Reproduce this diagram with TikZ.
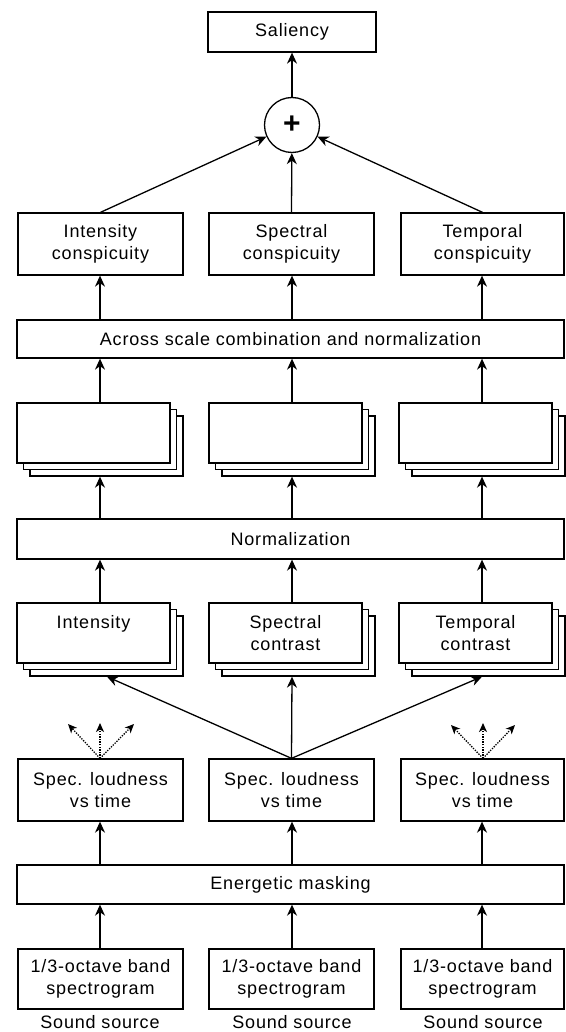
\documentclass[tikz,border=0pt]{standalone}
\usepackage{fontspec}
\setmainfont{Liberation Sans}[LetterSpace=4.5]
\usetikzlibrary{arrows.meta}
\begin{document}
\begin{tikzpicture}[x=1pt,y=-1pt,
  box/.style={draw, line width=1.3pt, fill=white, inner sep=0pt, align=center,
    font=\fontsize{18}{22}\selectfont},
  colbox/.style={box, minimum width=165pt, minimum height=62pt},
  widebox/.style={box, minimum width=547pt, minimum height=39pt},
  stackbox/.style={box, minimum width=153pt, minimum height=60pt},
  arr/.style={-{Stealth[length=11pt,width=10pt,inset=3.5pt]}, line width=1.3pt},
  dotarr/.style={-{Stealth[length=9pt,width=8pt,inset=2.5pt]}, line width=1.3pt,
    dash pattern=on 1.3pt off 1.3pt},
  lbl/.style={inner sep=0pt, font=\fontsize{18}{22}\selectfont}]
\useasboundingbox (0,0) rectangle (565,1032);
% column axes
\coordinate (c1) at (100,0);
\coordinate (c2) at (292,0);
\coordinate (c3) at (482,0);
% top
\node[box, minimum width=168pt, minimum height=40pt] (sal) at (292,32) {Saliency};
\node[draw, circle, line width=1.3pt, minimum size=55pt, inner sep=0pt,
  font=\fontsize{30}{30}\selectfont\bfseries] (plus) at (292,125) {+};
% conspicuity
\node[colbox] (cons1) at (100.5,244) {Intensity\\conspicuity};
\node[colbox] (cons2) at (291.5,244) {Spectral\\conspicuity};
\node[colbox, minimum width=163pt] (cons3) at (482.5,244) {Temporal\\conspicuity};
\node[widebox, minimum height=38pt] (across) at (290.5,339) {Across scale combination and normalization};
% upper stacks
\foreach \n/\x in {1/93.5, 2/285.5, 3/475.5} {
  \node[stackbox] (u\n c) at (\x+13,446) {};
  \node[stackbox] (u\n b) at (\x+6.5,439.5) {};
  \node[stackbox] (u\n a) at (\x,433) {};
}
\node[widebox, minimum height=40pt] (norm) at (290.5,539) {Normalization};
% lower stacks
\foreach \n/\x in {1/93.5, 2/285.5, 3/475.5} {
  \node[stackbox] (l\n c) at (\x+13,646) {};
  \node[stackbox] (l\n b) at (\x+6.5,639.5) {};
}
\node[stackbox] (l1a) at (93.5,633) {Intensity\\\mbox{}};
\node[stackbox] (l2a) at (285.5,633) {Spectral\\contrast};
\node[stackbox] (l3a) at (475.5,633) {Temporal\\contrast};
% spec loudness
\node[colbox] (sp1) at (100.5,790) {Spec. loudness\\vs time};
\node[colbox] (sp2) at (291.5,790) {Spec. loudness\\vs time};
\node[colbox, minimum width=163pt] (sp3) at (482.5,790) {Spec. loudness\\vs time};
\node[widebox] (mask) at (290.5,884.5) {Energetic masking};
% octave
\node[colbox, minimum height=60pt] (oc1) at (100.5,979) {1/3-octave band\\spectrogram};
\node[colbox, minimum height=60pt] (oc2) at (291.5,979) {1/3-octave band\\spectrogram};
\node[colbox, minimum height=60pt, minimum width=163pt] (oc3) at (482.5,979) {1/3-octave band\\spectrogram};
\node[lbl] (ss1) at (100,1022) {Sound source};
\node[lbl] (ss2) at (292,1022) {Sound source};
\node[lbl] (ss3) at (483,1022) {Sound source};
% dotted arrow tips
\coordinate (d1l) at (68,724);
\coordinate (d1m) at (100,723);
\coordinate (d1r) at (134,724);
\coordinate (d3l) at (451,725);
\coordinate (d3m) at (483,723);
\coordinate (d3r) at (515,725);
\coordinate (t1) at (107,0);
\coordinate (t3) at (482,0);
% connectors
\draw[arr] (plus) -- (sal);
\draw[arr] (cons1.north) -- (plus);
\draw[arr] (cons2.north) -- (plus);
\draw[arr] (cons3.north) -- (plus);
\foreach \n in {1,2,3} {
  \draw[arr] (across.north -| c\n) -- (cons\n.south -| c\n);
  \draw[arr] (u\n a.north -| c\n) -- (across.south -| c\n);
  \draw[arr] (norm.north -| c\n) -- (u\n c.south -| c\n);
  \draw[arr] (l\n a.north -| c\n) -- (norm.south -| c\n);
  \draw[arr] (mask.north -| c\n) -- (sp\n.south -| c\n);
  \draw[arr] (oc\n.north -| c\n) -- (mask.south -| c\n);
}
\draw[arr] (sp2.north) -- (l1c.south -| t1);
\draw[arr] (sp2.north) -- (l2c.south -| c2);
\draw[arr] (sp2.north) -- (l3c.south -| t3);
\draw[dotarr] (sp1.north -| c1) -- (d1l);
\draw[dotarr] (sp1.north -| c1) -- (d1m);
\draw[dotarr] (sp1.north -| c1) -- (d1r);
\draw[dotarr] (sp3.north -| d3m) -- (d3l);
\draw[dotarr] (sp3.north -| d3m) -- (d3m);
\draw[dotarr] (sp3.north -| d3m) -- (d3r);
\end{tikzpicture}
\end{document}
